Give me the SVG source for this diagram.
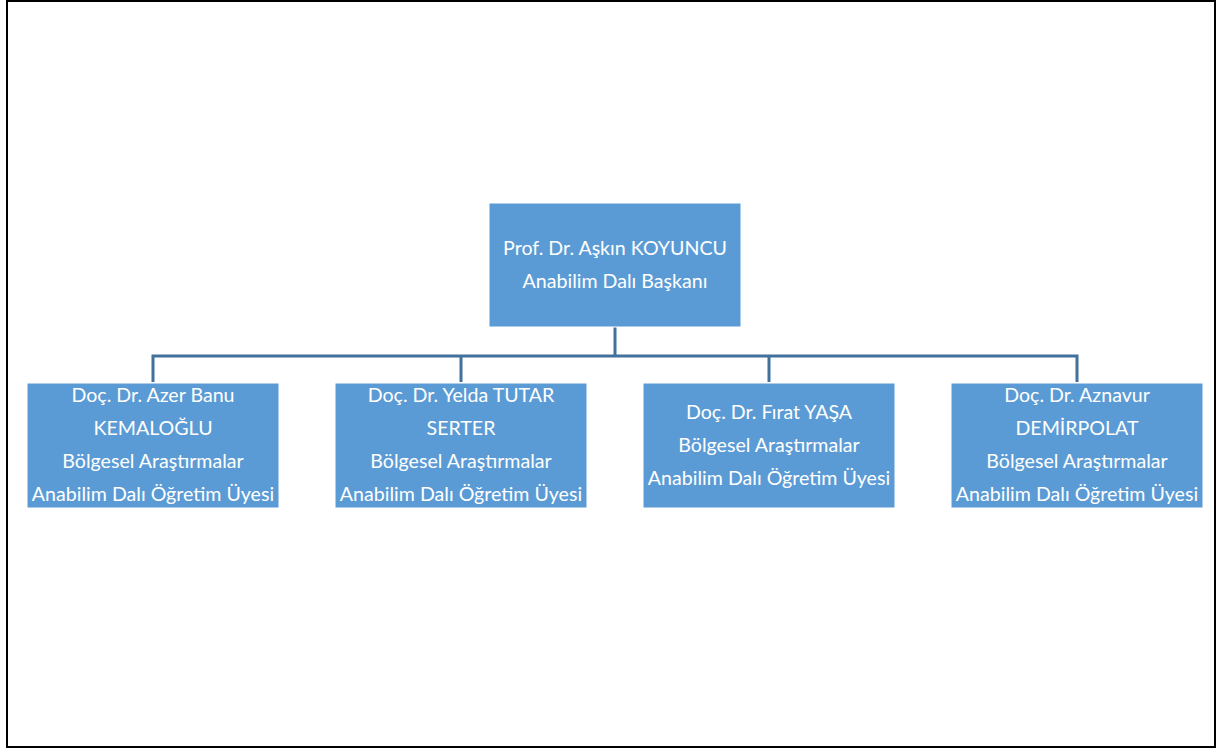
<svg xmlns="http://www.w3.org/2000/svg" width="1217" height="749" viewBox="0 0 1217 749">
<style>
.box{fill:#5B9BD5;stroke:#FFFFFF;stroke-width:1}
.t{font-family:Lato,"Open Sans","Liberation Sans",sans-serif;font-size:19.6px;fill:#FFFFFF;text-anchor:middle}
.c{fill:none;stroke:#41719C;stroke-width:3}
</style>
<rect x="7" y="1" width="1208" height="746" fill="#FFFFFF" stroke="#000000" stroke-width="2"/>
<g id="connectors">
<path class="c" d="M615,327 V356"/>
<path class="c" d="M153,382 V356 H1077 V382"/>
<path class="c" d="M461,356 V382"/>
<path class="c" d="M769,356 V382"/>
</g>
<g id="node-head">
<rect class="box" x="489" y="203" width="252" height="124"/>
<text class="t" x="615" y="255">Prof. Dr. Aşkın KOYUNCU</text>
<text class="t" x="615" y="288">Anabilim Dalı Başkanı</text>
</g>
<g id="node-kemaloglu">
<rect class="box" x="27" y="383" width="252" height="125"/>
<text class="t" x="153" y="402">Doç. Dr. Azer Banu</text>
<text class="t" x="153" y="435">KEMALOĞLU</text>
<text class="t" x="153" y="468">Bölgesel Araştırmalar</text>
<text class="t" x="153" y="501">Anabilim Dalı Öğretim Üyesi</text>
</g>
<g id="node-serter">
<rect class="box" x="335" y="383" width="252" height="125"/>
<text class="t" x="461" y="402">Doç. Dr. Yelda TUTAR</text>
<text class="t" x="461" y="435">SERTER</text>
<text class="t" x="461" y="468">Bölgesel Araştırmalar</text>
<text class="t" x="461" y="501">Anabilim Dalı Öğretim Üyesi</text>
</g>
<g id="node-yasa">
<rect class="box" x="643" y="383" width="252" height="125"/>
<text class="t" x="769" y="419">Doç. Dr. Fırat YAŞA</text>
<text class="t" x="769" y="452">Bölgesel Araştırmalar</text>
<text class="t" x="769" y="485">Anabilim Dalı Öğretim Üyesi</text>
</g>
<g id="node-demirpolat">
<rect class="box" x="951" y="383" width="252" height="125"/>
<text class="t" x="1077" y="402">Doç. Dr. Aznavur</text>
<text class="t" x="1077" y="435">DEMİRPOLAT</text>
<text class="t" x="1077" y="468">Bölgesel Araştırmalar</text>
<text class="t" x="1077" y="501">Anabilim Dalı Öğretim Üyesi</text>
</g>
</svg>
